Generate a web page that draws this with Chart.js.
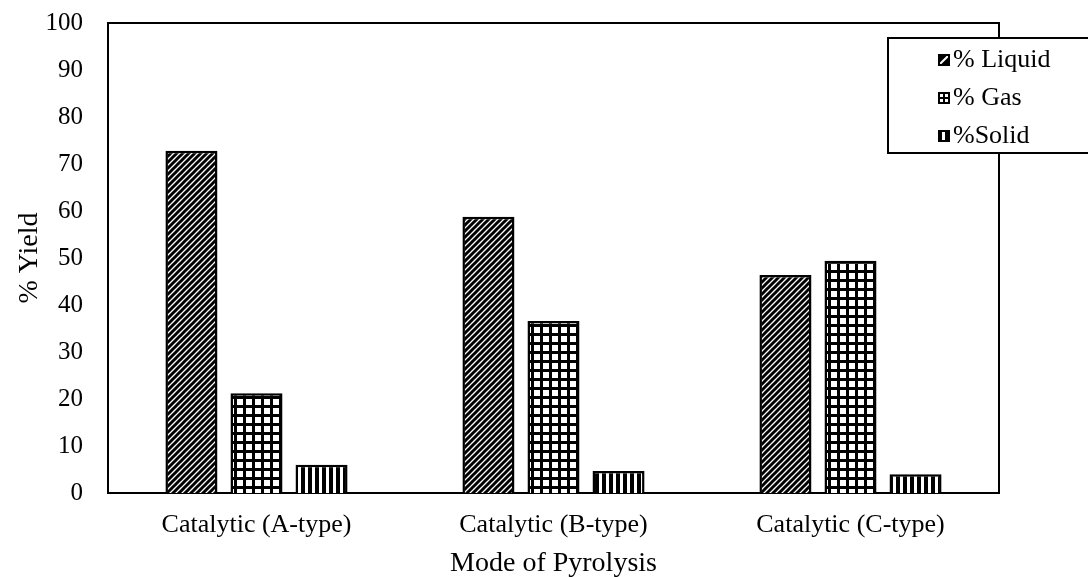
<!DOCTYPE html>
<html>
<head>
<meta charset="utf-8">
<script src="https://cdn.jsdelivr.net/npm/chart.js@4.4.1/dist/chart.umd.min.js"></script>
<style>
  html, body { margin: 0; padding: 0; background: #ffffff; }
  #wrap { width: 1088px; height: 577px; }
</style>
</head>
<body>
<div id="wrap"><canvas id="c" width="1088" height="577"></canvas></div>
<script>
// Product yields by pyrolysis mode
const categories = ['Catalytic (A-type)', 'Catalytic (B-type)', 'Catalytic (C-type)'];
const liquidYield = [72.8, 58.8, 46.4];
const gasYield = [21.2, 36.6, 49.4];
const solidYield = [6.0, 4.7, 4.0];
const seriesLabels = ['% Liquid', '% Gas', '%Solid'];
const yTicks = [0, 10, 20, 30, 40, 50, 60, 70, 80, 90, 100];

const SERIF = "'Liberation Serif', 'Times New Roman', serif";

// Monochrome hatch fills
function makeTile(w, h, draw) {
  const t = document.createElement('canvas');
  t.width = w; t.height = h;
  const g = t.getContext('2d');
  g.fillStyle = '#ffffff';
  g.fillRect(0, 0, w, h);
  g.fillStyle = '#000000';
  g.strokeStyle = '#000000';
  draw(g, w, h);
  return t;
}
const ctx = document.getElementById('c').getContext('2d');

const diagTile = makeTile(6, 6, (g, s) => {
  g.lineWidth = 3;
  g.beginPath();
  g.moveTo(0, s); g.lineTo(s, 0);
  g.moveTo(-2, 2); g.lineTo(2, -2);
  g.moveTo(s - 2, s + 2); g.lineTo(s + 2, s - 2);
  g.stroke();
});
const gridTile = makeTile(9, 9, (g, s) => {
  g.fillRect(0, 0, 3, s);
  g.fillRect(0, 0, s, 3);
});
const vertTile = makeTile(7, 7, (g, s) => {
  g.fillRect(0, 0, 4, s);
});
const fills = [
  ctx.createPattern(diagTile, 'repeat'),
  ctx.createPattern(gridTile, 'repeat'),
  ctx.createPattern(vertTile, 'repeat')
];

// Small key swatches, one per series
function drawSwatch(c, i, x, y, s) {
  c.fillStyle = '#000000';
  c.fillRect(x, y, s, s);
  c.fillStyle = '#ffffff';
  if (i === 0) {
    c.save();
    c.beginPath();
    c.rect(x + 2, y + 2, s - 4, s - 4);
    c.clip();
    c.strokeStyle = '#ffffff';
    c.lineWidth = 2;
    c.beginPath();
    c.moveTo(x, y + s); c.lineTo(x + s, y);
    c.stroke();
    c.restore();
  } else if (i === 1) {
    const h = (s - 6) / 2;
    c.fillRect(x + 2, y + 2, h, h);
    c.fillRect(x + 4 + h, y + 2, h, h);
    c.fillRect(x + 2, y + 4 + h, h, h);
    c.fillRect(x + 4 + h, y + 4 + h, h, h);
  } else {
    c.fillRect(x + 4, y + 2, 3, s - 4);
  }
}

// Frame around the plotting area
const framePlugin = {
  id: 'frame',
  beforeDatasetsDraw(chart) {
    const a = chart.chartArea;
    const c = chart.ctx;
    c.save();
    c.strokeStyle = '#000000';
    c.lineWidth = 2;
    c.strokeRect(a.left, a.top, a.right - a.left, a.bottom - a.top);
    c.restore();
  }
};

// Boxed key at the upper right
const keyPlugin = {
  id: 'key',
  afterDraw(chart) {
    const a = chart.chartArea;
    const c = chart.ctx;
    const left = a.right - 111;
    const top = a.top + 15;
    const bottom = top + 115;
    c.save();
    c.fillStyle = '#ffffff';
    c.fillRect(left, top, chart.width - left + 5, bottom - top);
    c.strokeStyle = '#000000';
    c.lineWidth = 2;
    c.strokeRect(left, top, chart.width - left + 5, bottom - top);
    c.font = '26px ' + SERIF;
    c.textBaseline = 'middle';
    c.textAlign = 'left';
    chart.data.datasets.forEach((ds, i) => {
      const cy = top + 21 + i * 38;
      const sx = left + 50;
      drawSwatch(c, i, sx, cy - 5, 12);
      c.fillStyle = '#000000';
      c.fillText(ds.label, sx + 15, cy + 1);
    });
    c.restore();
  }
};

new Chart(ctx, {
  type: 'bar',
  data: {
    labels: categories,
    datasets: [
      { label: seriesLabels[0], data: liquidYield, backgroundColor: fills[0] },
      { label: seriesLabels[1], data: gasYield, backgroundColor: fills[1] },
      { label: seriesLabels[2], data: solidYield, backgroundColor: fills[2] }
    ].map(d => Object.assign(d, {
      borderColor: '#000000',
      borderWidth: 2.5,
      categoryPercentage: 0.657,
      barPercentage: 0.8
    }))
  },
  options: {
    responsive: false,
    animation: false,
    devicePixelRatio: 1,
    layout: { padding: { left: 0, right: 89, top: 23, bottom: 0 } },
    plugins: {
      legend: { display: false },
      tooltip: { enabled: false },
      title: { display: false }
    },
    scales: {
      x: {
        grid: { display: false },
        border: { display: false },
        ticks: {
          color: '#000000',
          padding: 9,
          maxRotation: 0,
          font: { family: SERIF, size: 26 }
        },
        title: {
          display: true,
          text: 'Mode of Pyrolysis',
          color: '#000000',
          padding: { top: 0, bottom: -3 },
          font: { family: SERIF, size: 28 }
        },
        afterFit(s) { s.height = 84; s.paddingLeft = 0; s.paddingRight = 0; }
      },
      y: {
        min: 0,
        max: 100,
        grid: { display: false },
        border: { display: false },
        afterBuildTicks(s) { s.ticks = yTicks.map(v => ({ value: v })); },
        ticks: {
          color: '#000000',
          padding: 17,
          font: { family: SERIF, size: 25 }
        },
        title: {
          display: true,
          text: '% Yield',
          color: '#000000',
          padding: { top: 13, bottom: 0 },
          font: { family: SERIF, size: 28 }
        },
        afterFit(s) { s.width = 108; s.paddingTop = 0; s.paddingBottom = 0; }
      }
    }
  },
  plugins: [framePlugin, keyPlugin]
});
</script>
</body>
</html>
